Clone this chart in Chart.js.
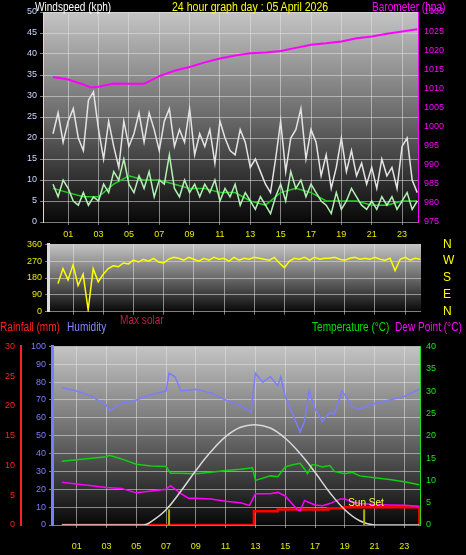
<!DOCTYPE html>
<html>
<head>
<meta charset="utf-8">
<script src="https://cdn.jsdelivr.net/npm/chart.js@4/dist/chart.umd.min.js"></script>
<style>
body { margin: 0; background: #000; width: 466px; height: 555px; overflow: hidden; position: relative; font-family: "Liberation Sans", Arial, sans-serif; }
canvas { position: absolute; left: 0; }
.lbl { position: absolute; font-size: 12px; white-space: nowrap; line-height: 12px; transform: scaleX(0.84); transform-origin: 0 0; }
</style>
</head>
<body>
<canvas id="top" style="top:0;width:466px;height:240px"></canvas>
<canvas id="mid" style="top:223px;width:466px;height:110px"></canvas>
<canvas id="bot" style="top:338px;width:466px;height:217px"></canvas>
<div class="lbl" style="left:35px;top:1px;color:#fff">Windspeed (kph)</div>
<div class="lbl" style="left:172px;top:1px;color:#ffff00;transform:scaleX(0.88)">24 hour graph day : 05 April 2026</div>
<div class="lbl" style="left:372px;top:1px;color:#ff00ff">Barometer (hpa)</div>
<div class="lbl" style="left:120px;top:314px;color:#c02048">Max solar</div>
<div class="lbl" style="left:0;top:321px;color:#ff2020">Rainfall (mm)</div>
<div class="lbl" style="left:67px;top:321px;color:#8888ff">Humidity</div>
<div class="lbl" style="left:312px;top:321px;color:#00e000">Temperature (°C)</div>
<div class="lbl" style="left:395px;top:321px;color:#ff00ff">Dew Point (°C)</div>
<script>
// wind samples every 20 minutes, 00:00 .. 24:00
const gust = [21,26,19, 24,27,20, 17,29,31, 22,15,24, 18,13,24, 18,21,26, 19,26,22, 17,24,27,
  18,22,19, 27,16,21, 18,22,14, 24,20,17, 16,22,19, 13,15,12, 9,7,15, 24,12,20,
  22,27,15, 22,19,11, 16,8,13, 20,12,17, 11,14,9, 13,8,15, 11,13,8, 18,20,10, 7];
const wind = [9,6,10, 8,5,4, 7,4,6, 5,9,7, 12,10,15, 9,7,11, 8,12,6, 10,9,16,
  8,6,10, 7,9,6, 9,7,10, 5,8,6, 9,4,7, 5,3,6, 4,2,6, 9,5,12,
  8,10,6, 9,7,5, 4,2,7, 3,5,8, 6,4,3, 5,3,6, 4,6,3, 5,7,3, 5];
const windAvg = [8,7,6,6,9,11,10,10,9,8,8,7,7,5,4,7,8,7,5,5,5,4,4,5,5];
const direction = [150,230,170, 250,140,200, 10,230,160, 200,230,245, 240,260,255, 275,265,280,
  270,285,265, 260,280,290, 285,275,290, 280,270,285, 275,290,280, 285,270,290,
  275,285,280, 290,285,280, 275,290,260, 235,270,285, 280,290,275, 290,280,285,
  285,290,280, 275,285,290, 280,285,280, 290,280,275, 285,220,280, 290,275,285, 280];
const baroHours = [0,1,2,2.5,3,4,5,6,7,8,9,10,11,12,13,14,15,16,17,18,19,20,21,22,23,24];
const baro = [1013,1012.3,1011,1010.2,1010.4,1011.3,1011.2,1011.2,1013.2,1014.6,1015.6,1016.8,1017.8,1018.6,1019.2,1019.4,1019.8,1020.6,1021.4,1021.8,1022.3,1023.1,1023.6,1024.3,1024.9,1025.5];

const humHours = [0,1,2,3,3.2,4,5,6,7,7.2,7.6,8,9,10,11,12,12.7,13,13.5,14,14.5,14.7,15,15.5,16,16.3,16.6,17,17.5,18,18.3,18.8,19,19.5,20,21,22,23,24];
const humidity = [77,75,72,67,64,68,70,73,75,85,83,75,76,74,70,67,63,85,80,83,78,83,72,62,52,58,75,65,58,63,62,75,73,66,65,68,70,72,76];
const tempHours = [0,3,3.2,4,5,6,7,7.3,8,9,10,11,12,12.8,13,13.5,14,14.5,15,15.5,16,16.3,16.5,16.8,17,17.5,18,18.3,19,19.5,20,21,22,23,24];
const temperature = [14.3,15.3,15.6,14.8,13.6,13.2,13.1,11.6,11.6,11.5,11.8,12.2,12.5,12.8,10,10.5,11,10.8,13,13.5,13.8,12.5,11.5,13.5,13.5,13,13.3,12,11.5,11.8,11,10.6,10.2,9.7,9];
const dewHours = [0,3,4,5,6,7,7.3,8,8.5,9,10,11,12,12.6,13,14,14.5,15,15.8,16,16.3,17,17.5,18,18.7,19,19.5,20,21,22,23,24];
const dewPoint = [9.6,8.4,8.2,7.2,7.6,8,8.8,7,6,6,5.8,5.3,5,4.4,7,7,7.3,6.5,3.5,3.2,5.5,4.5,4.3,4.8,5.8,5.8,5.2,4.8,4.6,4.5,4.4,4.2];
const rainHours = [0,12.9,14.5,17.9,18.8,24,24.01];
const rain = [0,2.3,2.6,2.8,3.0,3.0,0];
const solarHours = [0,5.5,6,7,8,9,10,11,12,13,14,15,16,17,18,19,20,21,24];
const maxSolar = [0,0,20,90,200,320,430,520,575,590,570,510,420,310,190,90,25,0,0];
const sunEvents = [7.2, 20.3];
const hourTicks = [1,3,5,7,9,11,13,15,17,19,21,23];

const pts = (xs, ys) => ys.map((y, i) => ({ x: xs[i], y }));
const every20 = ys => ys.map((y, i) => ({ x: i / 3, y }));
const FONT = { family: 'Liberation Sans', size: 9 };
const grid = { color: 'rgba(225,225,225,0.55)', borderDash: [1, 2], tickLength: 3 };

const bgPlugin = {
  id: 'bg',
  beforeDraw(chart) {
    const a = chart.chartArea, ctx = chart.ctx;
    const g = ctx.createLinearGradient(0, a.top, 0, a.bottom);
    g.addColorStop(0, '#c4c4c4');
    g.addColorStop(0.5, '#6a6a6a');
    g.addColorStop(1, '#080808');
    ctx.save();
    ctx.fillStyle = g;
    ctx.fillRect(a.left, a.top, a.right - a.left, a.bottom - a.top);
    ctx.restore();
  }
};

function hourAxis(show, color, h, pad) {
  return {
    type: 'linear', min: -0.66, max: 24.05, display: true,
    afterBuildTicks: s => { s.ticks = hourTicks.map(v => ({ value: v })); },
    afterFit: s => { s.height = h; },
    ticks: { display: show, color, font: FONT, padding: pad, maxRotation: 0,
      callback: v => String(v).padStart(2, '0') },
    grid, border: { display: false }
  };
}
function side(w, min, max, step, color, pos, extra) {
  return Object.assign({
    position: pos, min, max,
    afterFit: s => { s.width = w; },
    ticks: { stepSize: step, color, font: FONT, padding: 3, autoSkip: false, callback: v => String(v) },
    grid: { display: false, tickLength: 3, tickColor: color },
    border: { color, width: 1 }
  }, extra || {});
}
const common = {
  responsive: false, animation: false, devicePixelRatio: 1,
  plugins: { legend: { display: false }, tooltip: { enabled: false } },
  elements: { point: { radius: 0 }, line: { borderWidth: 1.5, tension: 0 } }
};

function make(id, w, h) {
  const c = document.getElementById(id);
  c.width = w; c.height = h;
  return c;
}

new Chart(make('top', 466, 240), {
  type: 'line',
  data: { datasets: [
    { data: every20(gust), borderColor: '#e4e4e4', borderWidth: 1.5, yAxisID: 'wind' },
    { data: every20(wind), borderColor: '#b4f0b4', borderWidth: 1.5, yAxisID: 'wind' },
    { data: pts(windAvg.map((_, i) => i), windAvg), borderColor: '#20d020', borderWidth: 1.5, yAxisID: 'wind' },
    { data: pts(baroHours, baro), borderColor: '#ff00ff', borderWidth: 2, yAxisID: 'baro' }
  ] },
  options: Object.assign({}, common, {
    layout: { padding: { top: 12 } },
    scales: {
      x: hourAxis(true, '#e8e800', 18, 4),
      wind: Object.assign(side(43, 0, 50, 5, '#c8d8ff', 'left'), { grid: Object.assign({}, grid) }),
      baro: side(48, 975, 1030, 5, '#ff00ff', 'right')
    }
  }),
  plugins: [bgPlugin]
});

new Chart(make('mid', 466, 110), {
  type: 'line',
  data: { datasets: [
    { data: every20(direction), borderColor: '#ffff00', borderWidth: 1.5, yAxisID: 'dir' }
  ] },
  options: Object.assign({}, common, {
    scales: {
      x: hourAxis(false, '#e8e800', 4, 0),
      dir: Object.assign(side(48, 0, 360, 90, '#e8e800', 'left'), { grid: Object.assign({}, grid), border: { color: '#dddddd', width: 3 } }),
      nwsen: Object.assign(side(45, 0, 360, 90, '#ffff00', 'right'), {
        ticks: { stepSize: 90, autoSkip: false, color: '#ffff00', font: { family: 'Liberation Sans', size: 12 }, padding: 14,
          callback: v => ({ 0: 'N', 90: 'E', 180: 'S', 270: 'W', 360: 'N' })[v] },
        grid: { display: false }, border: { display: false }
      })
    }
  }),
  plugins: [bgPlugin]
});

const sunPlugin = {
  id: 'sun',
  afterDatasetsDraw(chart) {
    const x = chart.scales.x, y = chart.scales.temp, ctx = chart.ctx;
    ctx.save();
    ctx.strokeStyle = '#b0b000'; ctx.lineWidth = 2;
    sunEvents.forEach(t => {
      ctx.beginPath();
      ctx.moveTo(x.getPixelForValue(t), y.getPixelForValue(0));
      ctx.lineTo(x.getPixelForValue(t), y.getPixelForValue(3.5));
      ctx.stroke();
    });
    ctx.fillStyle = '#ffff40'; ctx.font = '10px Liberation Sans';
    ctx.fillText('Sun Set', x.getPixelForValue(sunEvents[1]) - 16, y.getPixelForValue(4.2));
    ctx.restore();
  }
};

new Chart(make('bot', 466, 217), {
  type: 'line',
  data: { datasets: [
    { data: pts(solarHours, maxSolar), borderColor: '#d8d8d8', borderWidth: 1.5, tension: 0.4, yAxisID: 'solar' },
    { data: pts(humHours, humidity), borderColor: '#7c7cff', yAxisID: 'hum' },
    { data: pts(tempHours, temperature), borderColor: '#10d010', yAxisID: 'temp' },
    { data: pts(dewHours, dewPoint), borderColor: '#ff00ff', yAxisID: 'temp' },
    { data: pts(rainHours, rain), borderColor: '#ff0000', borderWidth: 2.5, stepped: true, yAxisID: 'rain' }
  ] },
  options: Object.assign({}, common, {
    layout: { padding: { top: 0 } },
    scales: {
      x: hourAxis(true, '#e8e800', 30, 13),
      hum: Object.assign(side(31, 0, 100, 10, '#7c7cff', 'left'), { border: { color: '#7c7cff', width: 3 }, grid: Object.assign({}, grid) }),
      rain: Object.assign(side(21, 0, 30, 5, '#ff2020', 'left'), { border: { color: '#ff2020', width: 2 } }),
      temp: side(46, 0, 40, 5, '#20e020', 'right'),
      solar: { display: false, min: 0, max: 1050 }
    }
  }),
  plugins: [bgPlugin, sunPlugin]
});
</script>
</body>
</html>
